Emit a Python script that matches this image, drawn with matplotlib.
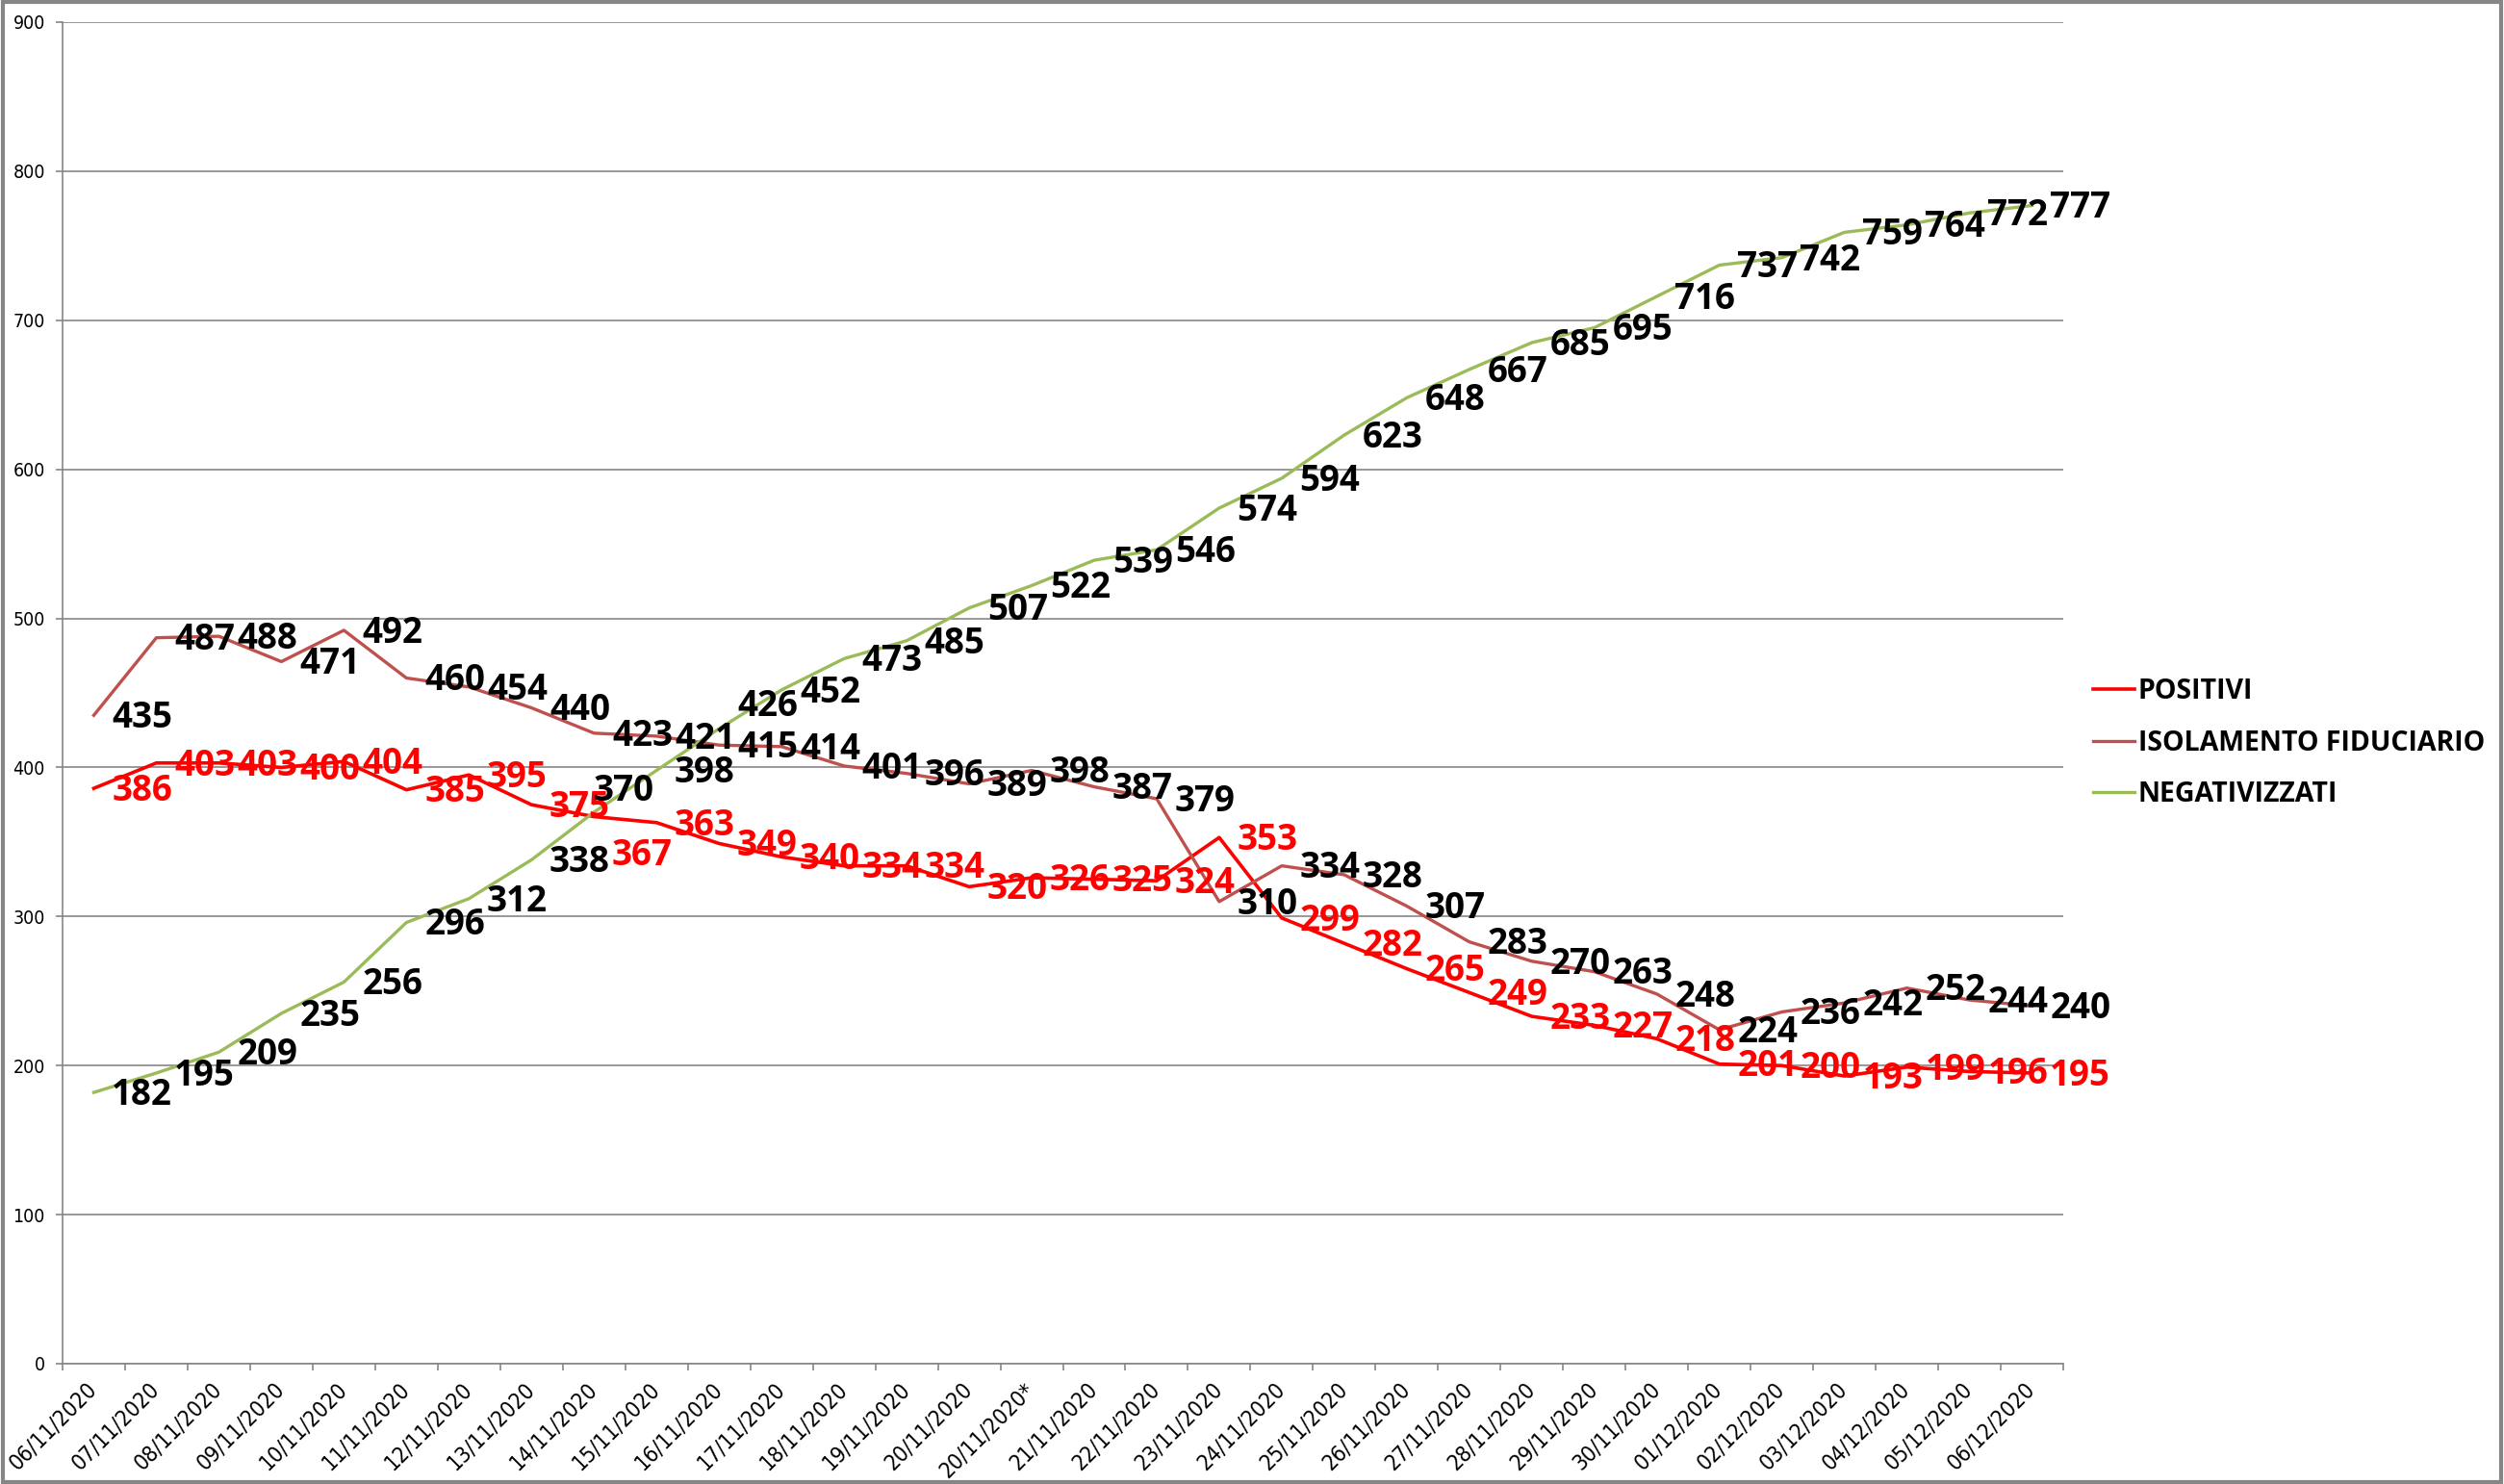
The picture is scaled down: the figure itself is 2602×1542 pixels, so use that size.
# Andamento positivi / isolamento fiduciario / negativizzati

import matplotlib.pyplot as plt
from matplotlib.patches import Rectangle

dates = ['06/11/2020', '07/11/2020', '08/11/2020', '09/11/2020', '10/11/2020',
         '11/11/2020', '12/11/2020', '13/11/2020', '14/11/2020', '15/11/2020',
         '16/11/2020', '17/11/2020', '18/11/2020', '19/11/2020', '20/11/2020',
         '20/11/2020*', '21/11/2020', '22/11/2020', '23/11/2020', '24/11/2020',
         '25/11/2020', '26/11/2020', '27/11/2020', '28/11/2020', '29/11/2020',
         '30/11/2020', '01/12/2020', '02/12/2020', '03/12/2020', '04/12/2020',
         '05/12/2020', '06/12/2020']

positivi = [386, 403, 403, 400, 404, 385, 395, 375, 367, 363, 349, 340, 334,
            334, 320, 326, 325, 324, 353, 299, 282, 265, 249, 233, 227, 218,
            201, 200, 193, 199, 196, 195]

isolamento = [435, 487, 488, 471, 492, 460, 454, 440, 423, 421, 415, 414, 401,
              396, 389, 398, 387, 379, 310, 334, 328, 307, 283, 270, 263, 248,
              224, 236, 242, 252, 244, 240]

negativizzati = [182, 195, 209, 235, 256, 296, 312, 338, 370, 398, 426, 452,
                 473, 485, 507, 522, 539, 546, 574, 594, 623, 648, 667, 685,
                 695, 716, 737, 742, 759, 764, 772, 777]

series = [
    ('POSITIVI', positivi, '#FF0000', 2.6, '#FF0000'),
    ('ISOLAMENTO FIDUCIARIO', isolamento, '#C0504D', 2.4, 'black'),
    ('NEGATIVIZZATI', negativizzati, '#9BBB59', 2.4, 'black'),
]

# a few labels were moved by hand in the original chart (offsets in points)
label_nudge = {('POSITIVI', 8): (0, -27),
               ('NEGATIVIZZATI', 8): (-14, 18),
               ('NEGATIVIZZATI', 10): (0, 19)}

label_font = ['Open Sans', 'DejaVu Sans']
tick_font = 'DejaVu Sans'
grid_color = '#868686'

W, H = 2602, 1542
fig = plt.figure(figsize=(W / 100, H / 100), dpi=100)
ax = fig.add_axes([65 / W, 1 - 1417 / H, (2144 - 65) / W, (1417 - 23) / H])

x = list(range(len(dates)))
for name, values, color, lw, text_color in series:
    ax.plot(x, values, color=color, linewidth=lw, label=name, zorder=3)

# data labels to the right of each point
for name, values, color, lw, text_color in series:
    for xi, v in zip(x, values):
        dx, dy = label_nudge.get((name, xi), (0, 0))
        ax.annotate(str(v), (xi, v), xytext=(13.5 + dx, -2 + dy),
                    textcoords='offset points', ha='left', va='center',
                    fontsize=26.5, fontweight='bold', color=text_color,
                    family=label_font, zorder=5)

ax.set_xlim(-0.5, len(dates) - 0.5)
ax.set_ylim(0, 900)
ax.set_yticks(range(0, 901, 100))
ax.set_xticks(x)
ax.set_xticklabels(dates, rotation=45, ha='right', va='center',
                   rotation_mode='anchor', family=tick_font,
                   fontstretch='condensed', fontsize=16.5)
ax.set_xticks([i - 0.5 for i in range(len(dates) + 1)], minor=True)
for lbl in ax.get_yticklabels():
    lbl.set_family(tick_font)
    lbl.set_fontstretch('condensed')
    lbl.set_fontsize(14)

ax.tick_params(axis='x', which='major', length=0, pad=17)
ax.tick_params(axis='x', which='minor', length=5, color=grid_color, width=1.2)
ax.tick_params(axis='y', length=5, color=grid_color, width=1.2, pad=8)

ax.grid(axis='y', color=grid_color, linewidth=1.2, zorder=0)
for side in ['top', 'right']:
    ax.spines[side].set_visible(False)
for side in ['left', 'bottom']:
    ax.spines[side].set_color(grid_color)
    ax.spines[side].set_linewidth(1.2)

fig.legend(loc='center left', bbox_to_anchor=(2175 / W, 1 - 772 / H),
           frameon=False, borderpad=0, borderaxespad=0, handlelength=1.5,
           handletextpad=0.15, labelspacing=0.85,
           prop={'family': label_font, 'weight': 'bold', 'size': 20.5})

# outer chart border
fig.add_artist(Rectangle((0.001, 0.001), 0.998, 0.998, transform=fig.transFigure,
                         fill=False, edgecolor=grid_color, linewidth=3))

fig.savefig('out.png', dpi=100)
